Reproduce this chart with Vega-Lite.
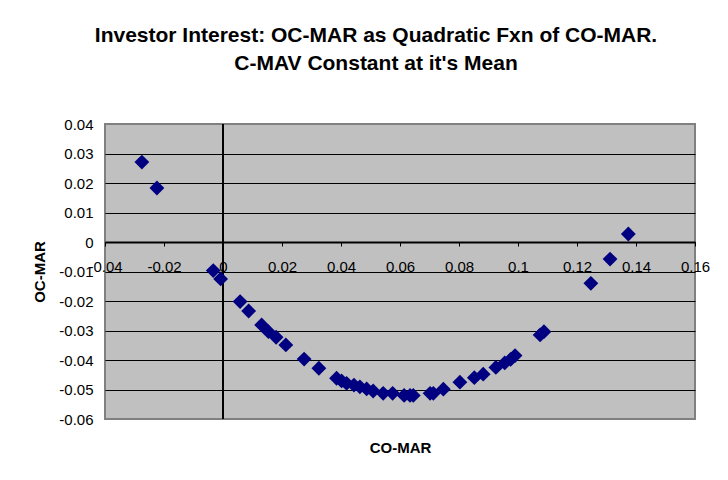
{
  "$schema": "https://vega.github.io/schema/vega-lite/v6.json",
  "width": 590,
  "height": 295,
  "autosize": {"type": "none"},
  "padding": {"left": 105, "top": 124, "right": 33, "bottom": 61},
  "background": "white",
  "config": {
    "font": "Liberation Sans",
    "view": {"fill": "#C0C0C0", "stroke": "#808080", "strokeWidth": 2}
  },
  "title": {
    "text": ["Investor Interest: OC-MAR as Quadratic Fxn of CO-MAR.", "C-MAV Constant at it's Mean"],
    "font": "Liberation Sans",
    "fontSize": 21,
    "fontWeight": "bold",
    "color": "black",
    "lineHeight": 28,
    "offset": 43,
    "dx": -24,
    "anchor": "middle",
    "frame": "group"
  },
  "layer": [
    {
      "data": {"values": [{"co_mar": 0}]},
      "mark": {"type": "rule", "color": "black", "strokeWidth": 2},
      "encoding": {
        "x": {"field": "co_mar", "type": "quantitative", "scale": {"domain": [-0.04, 0.16], "nice": false, "zero": false}}
      }
    },
    {
      "data": {
        "values": [
          {"co_mar": -0.0275, "oc_mar": 0.0271},
          {"co_mar": -0.0224, "oc_mar": 0.0183},
          {"co_mar": -0.0033, "oc_mar": -0.0097},
          {"co_mar": -0.0008, "oc_mar": -0.0125},
          {"co_mar": 0.0058, "oc_mar": -0.0202},
          {"co_mar": 0.0087, "oc_mar": -0.0234},
          {"co_mar": 0.0131, "oc_mar": -0.0281},
          {"co_mar": 0.0154, "oc_mar": -0.0304},
          {"co_mar": 0.018, "oc_mar": -0.0323},
          {"co_mar": 0.0213, "oc_mar": -0.0349},
          {"co_mar": 0.0275, "oc_mar": -0.0397},
          {"co_mar": 0.0325, "oc_mar": -0.0428},
          {"co_mar": 0.0385, "oc_mar": -0.0462},
          {"co_mar": 0.0402, "oc_mar": -0.0471},
          {"co_mar": 0.0419, "oc_mar": -0.0479},
          {"co_mar": 0.0444, "oc_mar": -0.0485},
          {"co_mar": 0.0464, "oc_mar": -0.0491},
          {"co_mar": 0.0487, "oc_mar": -0.0498},
          {"co_mar": 0.0509, "oc_mar": -0.0505},
          {"co_mar": 0.0543, "oc_mar": -0.0513},
          {"co_mar": 0.0575, "oc_mar": -0.0513},
          {"co_mar": 0.0614, "oc_mar": -0.052},
          {"co_mar": 0.0634, "oc_mar": -0.052},
          {"co_mar": 0.0645, "oc_mar": -0.052},
          {"co_mar": 0.0702, "oc_mar": -0.0513},
          {"co_mar": 0.0713, "oc_mar": -0.0513},
          {"co_mar": 0.0747, "oc_mar": -0.0499},
          {"co_mar": 0.0803, "oc_mar": -0.0475},
          {"co_mar": 0.0852, "oc_mar": -0.046},
          {"co_mar": 0.0882, "oc_mar": -0.0448},
          {"co_mar": 0.0925, "oc_mar": -0.0425},
          {"co_mar": 0.0955, "oc_mar": -0.041},
          {"co_mar": 0.0975, "oc_mar": -0.0398},
          {"co_mar": 0.099, "oc_mar": -0.0385},
          {"co_mar": 0.1075, "oc_mar": -0.0315},
          {"co_mar": 0.1088, "oc_mar": -0.0304},
          {"co_mar": 0.1247, "oc_mar": -0.014},
          {"co_mar": 0.1312, "oc_mar": -0.0058},
          {"co_mar": 0.1374, "oc_mar": 0.0027}
        ]
      },
      "mark": {"type": "point", "shape": "diamond", "filled": true, "color": "#000080", "opacity": 1, "size": 220},
      "encoding": {
        "x": {
          "field": "co_mar",
          "type": "quantitative",
          "scale": {"domain": [-0.04, 0.16], "nice": false, "zero": false},
          "axis": {
            "orient": "bottom",
            "offset": -177,
            "values": [-0.04, -0.02, 0, 0.02, 0.04, 0.06, 0.08, 0.1, 0.12, 0.14, 0.16],
            "grid": false,
            "domainColor": "black",
            "domainWidth": 2,
            "tickColor": "black",
            "tickSize": 4,
            "tickWidth": 1,
            "labelFont": "Liberation Sans",
            "labelFontSize": 15,
            "labelColor": "black",
            "labelPadding": 13,
            "labelFlush": false,
            "labelOverlap": false,
            "labelExpr": "replace(format(datum.value, '~g'), '\u2212', '-')",
            "title": "CO-MAR",
            "titleFont": "Liberation Sans",
            "titleFontSize": 15,
            "titleFontWeight": "bold",
            "titleColor": "black",
            "titlePadding": 166
          }
        },
        "y": {
          "field": "oc_mar",
          "type": "quantitative",
          "scale": {"domain": [-0.06, 0.04], "nice": false, "zero": false},
          "axis": {
            "orient": "left",
            "values": [-0.06, -0.05, -0.04, -0.03, -0.02, -0.01, 0, 0.01, 0.02, 0.03, 0.04],
            "grid": true,
            "gridColor": {"condition": {"test": "datum.value == 0.04 || datum.value == -0.06", "value": "#808080"}, "value": "black"},
            "gridWidth": 1,
            "gridOpacity": 1,
            "domain": false,
            "ticks": false,
            "labelFont": "Liberation Sans",
            "labelFontSize": 15,
            "labelColor": "black",
            "labelPadding": 12,
            "labelFlush": false,
            "labelOverlap": false,
            "labelExpr": "replace(format(datum.value, '~g'), '\u2212', '-')",
            "title": "OC-MAR",
            "titleFont": "Liberation Sans",
            "titleFontSize": 15,
            "titleFontWeight": "bold",
            "titleColor": "black",
            "titlePadding": 11
          }
        }
      }
    }
  ]
}
